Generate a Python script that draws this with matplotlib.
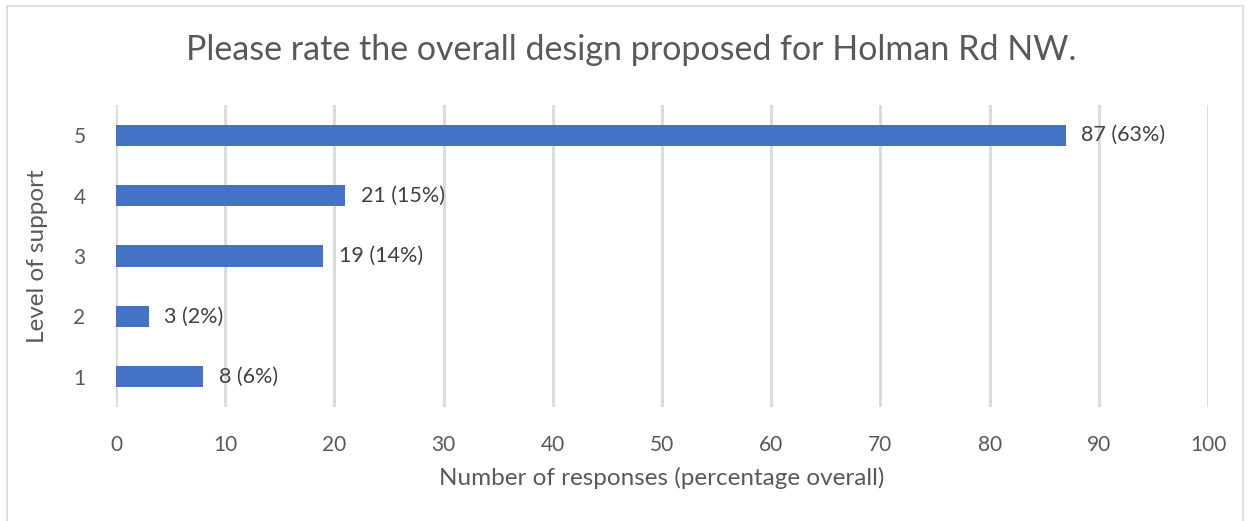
import matplotlib
matplotlib.use("Agg")
import matplotlib.pyplot as plt
from matplotlib.patches import Rectangle

levels = ["1", "2", "3", "4", "5"]
counts = [8, 3, 19, 21, 87]
labels = ["8 (6%)", "3 (2%)", "19 (14%)", "21 (15%)", "87 (63%)"]
xticks = [0, 10, 20, 30, 40, 50, 60, 70, 80, 90, 100]

plt.rcParams['font.family'] = ['Lato', 'DejaVu Sans']
txt = '#595959'
grid = '#d9d9d9'
bar_c = '#4472C4'

fig = plt.figure(figsize=(12.5, 5.21), dpi=100)
fig.patches.append(Rectangle((7/1250, -0.1), (1243-7)/1250, 1.1 - 6/521, transform=fig.transFigure,
                             fill=False, edgecolor='#d9d9d9', linewidth=1.2))
ax = fig.add_axes([116/1250, 1-407/521, (1208-116)/1250, (407-105)/521])
y = list(range(1, len(levels)+1))
ax.barh(y, counts, height=0.35, color=bar_c, zorder=3)
for yi, c, l in zip(y, counts, labels):
    ax.text(c + 1.4, yi, l, va='center', ha='left', fontsize=15.5, color='#404040')
ax.set_xlim(0, 100)
ax.set_ylim(0.5, 5.5)
ax.set_xticks(xticks)
ax.set_yticks(y)
ax.set_yticklabels(levels)
ax.tick_params(axis='both', length=0, labelsize=15, labelcolor=txt)
ax.tick_params(axis='x', pad=20)
ax.tick_params(axis='y', pad=22)
ax.grid(axis='x', color=grid, linewidth=2, zorder=0)
for s in ax.spines.values():
    s.set_visible(False)
ax.set_xlabel("Number of responses (percentage overall)", fontsize=17.5, color=txt, labelpad=9)
ax.set_ylabel("Level of support", fontsize=17.5, color=txt, labelpad=18)
fig.text(631/1250, 1-50/521, "Please rate the overall design proposed for Holman Rd NW.",
         ha='center', va='center', fontsize=24.5, color=txt)
fig.savefig("out.png", dpi=100)
